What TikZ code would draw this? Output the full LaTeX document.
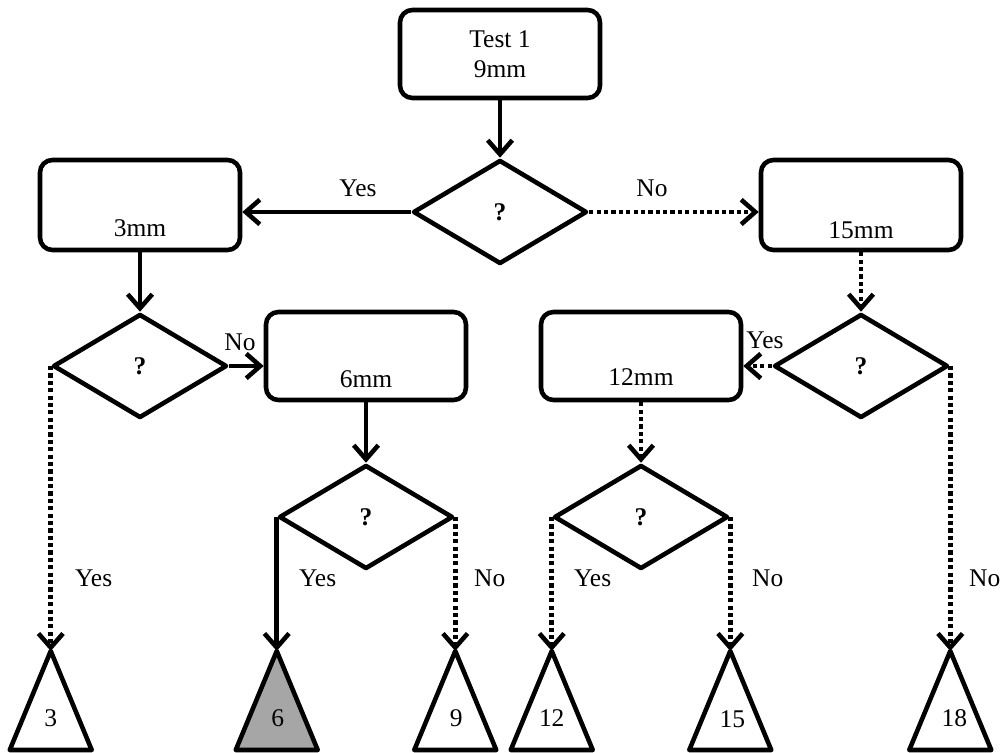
\documentclass[tikz,border=0pt]{standalone}
\usepackage{fontspec}
\setmainfont{Liberation Serif}
\usetikzlibrary{arrows.meta,shapes.geometric}

\begin{document}
\begin{tikzpicture}[x=0.02cm,y=-0.02cm,line join=round,
  font=\fontsize{14.5}{17}\selectfont,
  box/.style={draw,rounded corners=7pt,line width=2.6pt,minimum width=4cm,minimum height=1.76cm,align=center,inner sep=2pt},
  ask/.style={draw,diamond,line width=2.6pt,minimum width=3.48cm,minimum height=2.08cm,inner sep=0pt,font=\fontsize{14.5}{17}\selectfont\bfseries},
  go/.style={line width=2.6pt,-{Straight Barb[length=8pt,width=14pt,line join=miter]}},
  maybe/.style={go,dash pattern=on 2.4pt off 1.8pt},
  leaf/.style={line width=2.6pt},
  lbl/.style={inner sep=1pt}]
\useasboundingbox (0,0) rectangle (1000,753);
% boxes
\node[box] (b9) at (500,54) {Test 1\\9mm};
\node[box,minimum height=1.8cm] (b3) at (140,205) {~\\[19pt]3mm};
\node[box,minimum height=1.8cm] (b15) at (861,205) {~\\[21pt]15mm};
\node[box] (b6) at (366,356) {~\\[19pt]6mm};
\node[box] (b12) at (641,356) {~\\[17pt]12mm};
% decisions
\node[ask] (d1) at (500,212) {?};
\node[ask] (d2) at (140,366) {?};
\node[ask] (dR) at (861,366) {?};
\node[ask] (d3) at (366,517) {?};
\node[ask] (d4) at (641,517) {?};
% leaves
\coordinate (t3) at (d2.west |- 0,651);
\coordinate (t6) at (d3.west |- 0,651);
\coordinate (t9) at (d3.east |- 0,651);
\coordinate (t12) at (d4.west |- 0,651);
\coordinate (t15) at (d4.east |- 0,651);
\coordinate (t18) at (dR.east |- 0,651);
\draw[leaf] (t3) -- ++(-41,99) -- ++(82,0) -- cycle;
\filldraw[leaf,fill=black!35] (t6) -- ++(-41,99) -- ++(82,0) -- cycle;
\draw[leaf] (t9) -- ++(-41,99) -- ++(82,0) -- cycle;
\draw[leaf] (t12) -- ++(-41,99) -- ++(82,0) -- cycle;
\draw[leaf] (t15) -- ++(-41,99) -- ++(82,0) -- cycle;
\draw[leaf] (t18) -- ++(-41,99) -- ++(82,0) -- cycle;
\path (t3) ++(0,67) node (n3) {3};
\path (t6) ++(1,67) node (n6) {6};
\path (t9) ++(1,67) node (n9) {9};
\path (t12) ++(0,67) node (n12) {12};
\path (t15) ++(2,68) node (n15) {15};
\path (t18) ++(4,67) node (n18) {18};
% connectors
\draw[go] (b9) -- (d1);
\draw[go] (d1.west) -- (d1.west -| b3.east);
\draw[maybe] (d1.east) -- (d1.east -| b15.west);
\draw[go] (b3) -- (d2);
\draw[maybe] (b15) -- (dR);
\draw[go] (d2.east) -- (d2.east -| b6.west);
\draw[maybe] (dR.west) -- (dR.west -| b12.east);
\draw[go] (b6) -- (d3);
\draw[maybe] (b12) -- (d4);
\draw[maybe] (d2.west) -- (t3);
\draw[go] (d3.west) -- (t6);
\draw[maybe] (d3.east) -- (t9);
\draw[maybe] (d4.west) -- (t12);
\draw[maybe] (d4.east) -- (t15);
\draw[maybe] (dR.east) -- (t18);
% labels
\node[lbl] (yes1) at (358,188) {Yes};
\node[lbl] (no1) at (652,188) {No};
\node[lbl] (no2) at (240,342) {No};
\node[lbl] (yesR) at (765,340) {Yes};
\node[lbl,anchor=west] (yes3) at (73,578) {Yes};
\node[lbl,anchor=west] (yes6) at (297,578) {Yes};
\node[lbl,anchor=west] (no9) at (472,578) {No};
\node[lbl,anchor=west] (yes12) at (572,578) {Yes};
\node[lbl,anchor=west] (no15) at (750,578) {No};
\node[lbl,anchor=west] (no18) at (967,578) {No};
\end{tikzpicture}
\end{document}
